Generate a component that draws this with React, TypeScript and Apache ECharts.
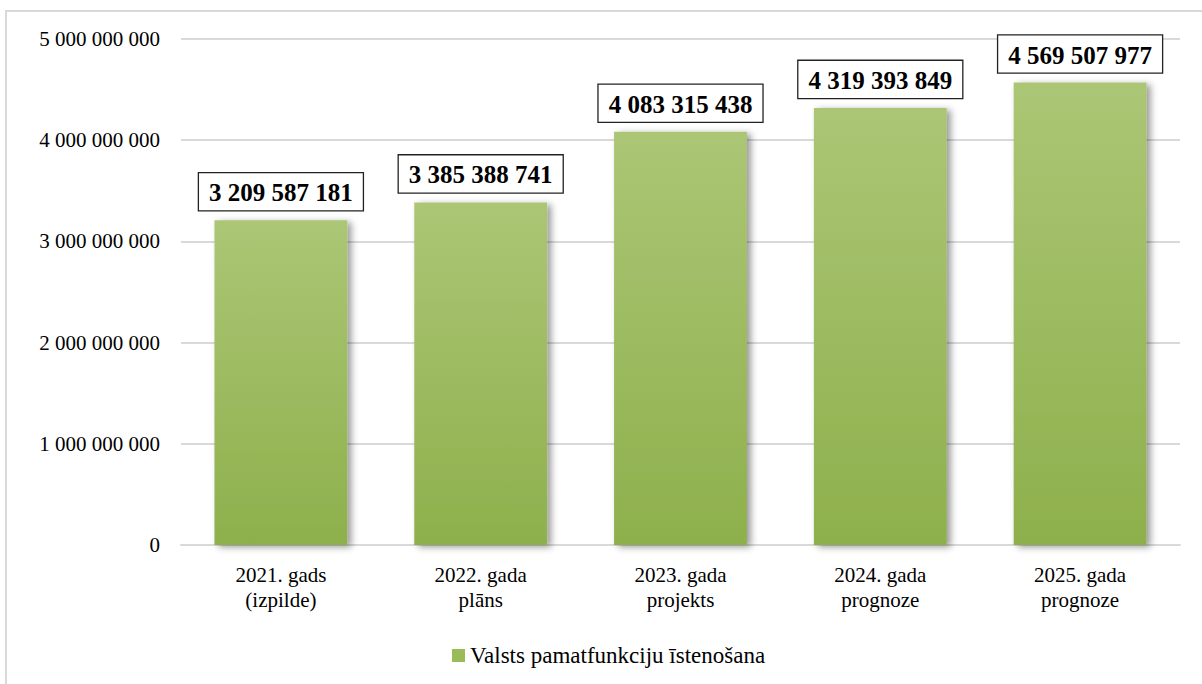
import React, { useEffect, useRef } from "react";
import * as echarts from "echarts";

const categories = [
  "2021. gads\n(izpilde)",
  "2022. gada\nplāns",
  "2023. gada\nprojekts",
  "2024. gada\nprognoze",
  "2025. gada\nprognoze",
];
const values = [3209587181, 3385388741, 4083315438, 4319393849, 4569507977];
const seriesName = "Valsts pamatfunkciju īstenošana";

const fmt = (v: number) =>
  String(Math.round(v)).replace(/\B(?=(\d{3})+(?!\d))/g, " ");

const FONT = "'Liberation Serif', 'Times New Roman', serif";

export default function App() {
  const ref = useRef<HTMLDivElement>(null);
  useEffect(() => {
    if (!ref.current) return;
    const chart = echarts.init(ref.current, undefined, { renderer: "svg" });
    chart.setOption({
      animation: false,
      backgroundColor: "#ffffff",
      textStyle: { fontFamily: FONT },
      graphic: [
        {
          type: "rect",
          shape: { x: 6, y: 11, width: 1210, height: 700 },
          style: { fill: "none", stroke: "#d9d9d9", lineWidth: 2 },
          silent: true,
        },
      ],
      grid: { left: 181, right: 22, top: 39, bottom: 139, containLabel: false },
      legend: {
        left: 447,
        top: 639,
        itemWidth: 13,
        itemHeight: 13,
        itemGap: 6,
        textStyle: { fontFamily: FONT, fontSize: 23, color: "#000" },
        data: [{ name: seriesName, icon: "rect", itemStyle: { color: "#9bbb59" } }],
      },
      xAxis: {
        type: "category",
        data: categories,
        axisLine: { lineStyle: { color: "#d9d9d9", width: 2 } },
        axisTick: { show: false },
        axisLabel: {
          fontFamily: FONT,
          fontSize: 21,
          color: "#000",
          lineHeight: 25,
          margin: 17,
        },
      },
      yAxis: {
        type: "value",
        min: 0,
        max: 5000000000,
        interval: 1000000000,
        axisLine: { show: false },
        axisTick: { show: false },
        splitLine: { lineStyle: { color: "#d9d9d9", width: 2 } },
        axisLabel: {
          fontFamily: FONT,
          fontSize: 21,
          color: "#000",
          margin: 21,
          formatter: (v: number) => fmt(v),
        },
      },
      series: [
        {
          name: seriesName,
          type: "bar",
          data: values,
          barWidth: "66.5%",
          itemStyle: {
            color: new echarts.graphic.LinearGradient(0, 0, 0, 1, [
              { offset: 0, color: "#abc675" },
              { offset: 1, color: "#8eb04c" },
            ]),
            shadowColor: "rgba(0,0,0,0.4)",
            shadowBlur: 7,
            shadowOffsetX: 4,
            shadowOffsetY: 2,
          },
          label: {
            show: true,
            position: "top",
            distance: 10,
            formatter: (p: any) => fmt(p.value),
            fontFamily: FONT,
            fontWeight: "bold",
            fontSize: 25,
            color: "#000",
            backgroundColor: "#ffffff",
            borderColor: "#222",
            borderWidth: 1.3,
            padding: [7, 10, 5, 10],
          },
        },
      ],
    });
    return () => chart.dispose();
  }, []);
  return (
    <div
      ref={ref}
      style={{ position: "absolute", left: 0, top: 0, width: 1202, height: 684 }}
    />
  );
}
